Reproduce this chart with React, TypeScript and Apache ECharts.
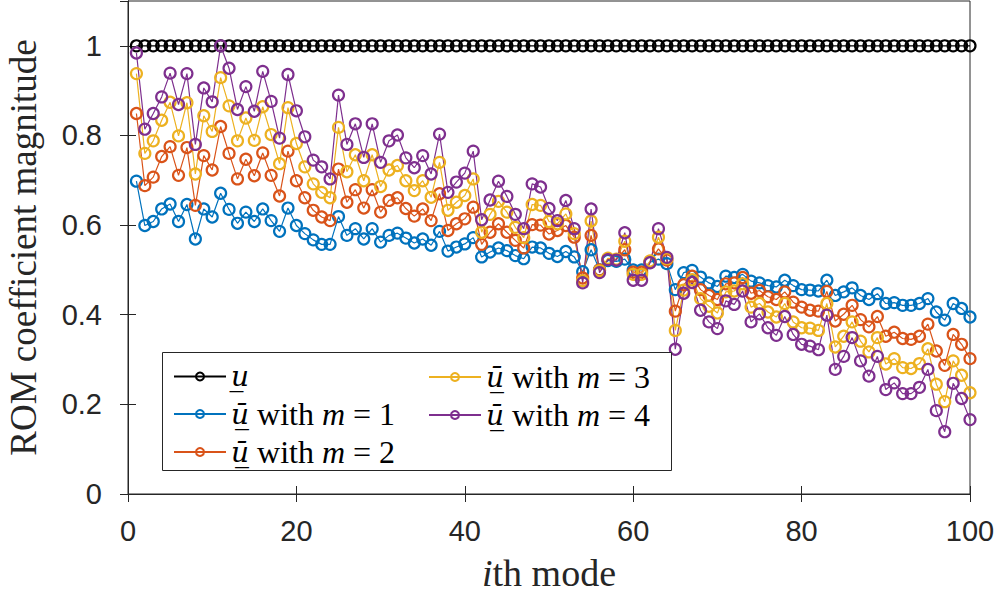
import React, { useEffect, useRef } from "react";
import * as echarts from "echarts";

const modes: number[] = [
  1, 2, 3, 4, 5, 6, 7, 8, 9, 10, 11, 12, 13, 14, 15, 16, 17, 18, 19, 20,
  21, 22, 23, 24, 25, 26, 27, 28, 29, 30, 31, 32, 33, 34, 35, 36, 37, 38, 39, 40,
  41, 42, 43, 44, 45, 46, 47, 48, 49, 50, 51, 52, 53, 54, 55, 56, 57, 58, 59, 60,
  61, 62, 63, 64, 65, 66, 67, 68, 69, 70, 71, 72, 73, 74, 75, 76, 77, 78, 79, 80,
  81, 82, 83, 84, 85, 86, 87, 88, 89, 90, 91, 92, 93, 94, 95, 96, 97, 98, 99, 100,
];

const uExact: number[] = [
  1, 1, 1, 1, 1, 1, 1, 1, 1, 1, 1, 1, 1, 1, 1, 1, 1, 1, 1, 1,
  1, 1, 1, 1, 1, 1, 1, 1, 1, 1, 1, 1, 1, 1, 1, 1, 1, 1, 1, 1,
  1, 1, 1, 1, 1, 1, 1, 1, 1, 1, 1, 1, 1, 1, 1, 1, 1, 1, 1, 1,
  1, 1, 1, 1, 1, 1, 1, 1, 1, 1, 1, 1, 1, 1, 1, 1, 1, 1, 1, 1,
  1, 1, 1, 1, 1, 1, 1, 1, 1, 1, 1, 1, 1, 1, 1, 1, 1, 1, 1, 1,
];

const m1: number[] = [
  0.698, 0.599, 0.608, 0.636, 0.647, 0.608, 0.646, 0.569, 0.636, 0.618,
  0.671, 0.635, 0.604, 0.629, 0.608, 0.636, 0.610, 0.586, 0.638, 0.599,
  0.581, 0.567, 0.557, 0.557, 0.619, 0.577, 0.592, 0.569, 0.592, 0.562,
  0.577, 0.582, 0.571, 0.560, 0.569, 0.555, 0.586, 0.542, 0.551, 0.558,
  0.572, 0.529, 0.540, 0.549, 0.543, 0.532, 0.525, 0.551, 0.549, 0.537,
  0.530, 0.541, 0.529, 0.496, 0.545, 0.500, 0.521, 0.519, 0.524, 0.500,
  0.500, 0.517, 0.524, 0.514, 0.456, 0.494, 0.499, 0.484, 0.471, 0.463,
  0.486, 0.483, 0.490, 0.475, 0.471, 0.465, 0.462, 0.477, 0.465, 0.456,
  0.455, 0.453, 0.477, 0.443, 0.451, 0.460, 0.443, 0.434, 0.447, 0.425,
  0.427, 0.421, 0.421, 0.425, 0.436, 0.406, 0.388, 0.425, 0.414, 0.395,
];

const m2: number[] = [
  0.849, 0.688, 0.707, 0.753, 0.775, 0.711, 0.773, 0.644, 0.755, 0.723,
  0.820, 0.760, 0.703, 0.747, 0.710, 0.761, 0.711, 0.665, 0.765, 0.699,
  0.661, 0.633, 0.618, 0.610, 0.725, 0.651, 0.679, 0.638, 0.679, 0.629,
  0.655, 0.661, 0.637, 0.620, 0.636, 0.610, 0.670, 0.588, 0.603, 0.614,
  0.640, 0.557, 0.584, 0.603, 0.584, 0.566, 0.549, 0.601, 0.600, 0.580,
  0.588, 0.599, 0.573, 0.482, 0.577, 0.500, 0.524, 0.523, 0.545, 0.495,
  0.495, 0.518, 0.547, 0.522, 0.408, 0.467, 0.486, 0.456, 0.443, 0.434,
  0.469, 0.471, 0.483, 0.448, 0.454, 0.440, 0.434, 0.451, 0.428, 0.417,
  0.410, 0.408, 0.452, 0.386, 0.401, 0.421, 0.389, 0.373, 0.396, 0.352,
  0.361, 0.347, 0.345, 0.352, 0.379, 0.319, 0.287, 0.356, 0.334, 0.302,
];

const m3: number[] = [
  0.938, 0.760, 0.788, 0.834, 0.874, 0.799, 0.873, 0.714, 0.844, 0.809,
  0.929, 0.866, 0.788, 0.839, 0.789, 0.864, 0.802, 0.737, 0.862, 0.782,
  0.730, 0.692, 0.673, 0.661, 0.818, 0.719, 0.757, 0.699, 0.757, 0.686,
  0.723, 0.733, 0.699, 0.677, 0.699, 0.662, 0.740, 0.633, 0.651, 0.666,
  0.703, 0.584, 0.624, 0.653, 0.629, 0.595, 0.572, 0.646, 0.644, 0.608,
  0.603, 0.625, 0.581, 0.476, 0.609, 0.498, 0.526, 0.524, 0.564, 0.490,
  0.490, 0.520, 0.573, 0.525, 0.365, 0.455, 0.478, 0.436, 0.419, 0.404,
  0.451, 0.453, 0.469, 0.417, 0.425, 0.406, 0.395, 0.425, 0.384, 0.371,
  0.370, 0.365, 0.425, 0.328, 0.352, 0.384, 0.341, 0.317, 0.349, 0.290,
  0.302, 0.282, 0.280, 0.291, 0.324, 0.245, 0.206, 0.297, 0.265, 0.226,
];

const m4: number[] = [
  0.984, 0.814, 0.849, 0.886, 0.939, 0.869, 0.938, 0.780, 0.906, 0.875,
  1.000, 0.950, 0.858, 0.909, 0.854, 0.943, 0.876, 0.794, 0.936, 0.855,
  0.797, 0.745, 0.730, 0.703, 0.890, 0.780, 0.826, 0.751, 0.826, 0.740,
  0.788, 0.801, 0.750, 0.728, 0.755, 0.714, 0.803, 0.673, 0.696, 0.716,
  0.765, 0.612, 0.656, 0.698, 0.664, 0.624, 0.592, 0.692, 0.685, 0.637,
  0.610, 0.655, 0.592, 0.471, 0.636, 0.494, 0.523, 0.522, 0.583, 0.477,
  0.477, 0.516, 0.592, 0.528, 0.323, 0.448, 0.472, 0.410, 0.384, 0.369,
  0.431, 0.423, 0.453, 0.384, 0.402, 0.371, 0.354, 0.396, 0.356, 0.334,
  0.330, 0.322, 0.399, 0.278, 0.307, 0.349, 0.297, 0.263, 0.307, 0.233,
  0.248, 0.224, 0.224, 0.238, 0.278, 0.186, 0.139, 0.247, 0.213, 0.166,
];

const seriesNames: string[] = ["u", "m1", "m2", "m3", "m4"];
const seriesValues: number[][] = [uExact, m1, m2, m3, m4];
const seriesColors: string[] = ["#000000", "#0072BD", "#D95319", "#EDB120", "#7E2F8E"];
const legendLabels: Record<string, string> = {
  u: "{u|u\u0332}",
  m1: "{u|u\u0304\u0332}{r| with }{i|m}{r| = 1}",
  m2: "{u|u\u0304\u0332}{r| with }{i|m}{r| = 2}",
  m3: "{u|u\u0304\u0332}{r| with }{i|m}{r| = 3}",
  m4: "{u|u\u0304\u0332}{r| with }{i|m}{r| = 4}",
};

const xTicks = { min: 0, max: 100, interval: 20 };
const yTicks = { min: 0, max: 1.1, interval: 0.2 };

const AXIS = "#262626";
const SERIF = "'Liberation Serif', 'Times New Roman', serif";
const SANS = "'Liberation Sans', Arial, Helvetica, sans-serif";

export default function App() {
  const ref = useRef<HTMLDivElement>(null);

  useEffect(() => {
    if (!ref.current) return;
    const chart = echarts.init(ref.current, undefined, { renderer: "svg" });

    const richLegend = {
      u: { fontFamily: "'DejaVu Serif', serif", fontStyle: "italic", fontSize: 28, color: "#000" },
      i: { fontFamily: SERIF, fontStyle: "italic", fontSize: 32, color: "#000" },
      r: { fontFamily: SERIF, fontSize: 32, color: "#000" },
    };

    const legendCommon = {
      orient: "vertical",
      top: 356,
      itemWidth: 52,
      itemHeight: 10,
      itemGap: 6,
      padding: 5,
      selectedMode: false,
      z: 10,
      formatter: (name: string) => legendLabels[name],
      textStyle: { fontFamily: SERIF, fontSize: 32, lineHeight: 31, color: "#000", rich: richLegend },
    };

    const yLabelFmt = (v: number) => (v > 1.05 ? "" : String(+v.toFixed(1)));

    chart.setOption({
      animation: false,
      backgroundColor: "#ffffff",
      grid: {
        left: 128,
        right: 28,
        top: 1,
        bottom: 100,
        outerBoundsMode: "none",
        containLabel: false,
        show: true,
        borderColor: AXIS,
        borderWidth: 1,
        backgroundColor: "transparent",
      },
      xAxis: [
        {
          type: "value",
          ...xTicks,
          position: "bottom",
          axisLine: { show: true, lineStyle: { color: AXIS, width: 1 } },
          axisTick: { show: true, inside: true, length: 8, lineStyle: { color: AXIS } },
          axisLabel: { show: true, margin: 22, fontFamily: SANS, fontSize: 29, color: AXIS },
          splitLine: { show: false },
          name: "{i|i}{r|th mode}",
          nameLocation: "middle",
          nameGap: 60,
          nameTextStyle: {
            rich: {
              i: { fontFamily: SERIF, fontStyle: "italic", fontSize: 38, color: AXIS },
              r: { fontFamily: SERIF, fontSize: 38, color: AXIS },
            },
          },
        },
        {
          type: "value",
          ...xTicks,
          position: "top",
          axisLine: { show: true, lineStyle: { color: AXIS, width: 1 } },
          axisTick: { show: true, inside: true, length: 8, lineStyle: { color: AXIS } },
          axisLabel: { show: false },
          splitLine: { show: false },
        },
      ],
      yAxis: [
        {
          type: "value",
          ...yTicks,
          position: "left",
          axisLine: { show: true, lineStyle: { color: AXIS, width: 1 } },
          axisTick: { show: true, inside: true, length: 8, lineStyle: { color: AXIS } },
          axisLabel: {
            show: true,
            margin: 26,
            fontFamily: SANS,
            fontSize: 29,
            color: AXIS,
            showMaxLabel: false,
            formatter: yLabelFmt,
          },
          splitLine: { show: false },
          name: "ROM coefficient magnitude",
          nameLocation: "middle",
          nameGap: 86,
          nameTextStyle: { fontFamily: SERIF, fontSize: 37, color: AXIS },
        },
        {
          type: "value",
          ...yTicks,
          position: "right",
          axisLine: { show: true, lineStyle: { color: AXIS, width: 1 } },
          axisTick: { show: true, inside: true, length: 8, lineStyle: { color: AXIS } },
          axisLabel: { show: false },
          splitLine: { show: false },
        },
      ],
      legend: [
        { ...legendCommon, left: 168, data: ["u", "m1", "m2"] },
        { ...legendCommon, left: 423, data: ["m3", "m4"] },
      ],
      graphic: [
        {
          type: "rect",
          z: 5,
          shape: { x: 162.5, y: 352.5, width: 509, height: 118 },
          style: { fill: "#ffffff", stroke: AXIS, lineWidth: 1 },
        },
      ],
      series: seriesNames.map((name, k) => ({
        name,
        type: "line",
        xAxisIndex: 0,
        yAxisIndex: 0,
        data: modes.map((m, j) => [m, seriesValues[k][j]]),
        symbol: "circle",
        symbolSize: 11,
        showSymbol: true,
        color: seriesColors[k],
        lineStyle: { color: seriesColors[k], width: 1.2 },
        itemStyle: { color: "rgba(255,255,255,0)", borderColor: seriesColors[k], borderWidth: 2.2 },
        emphasis: { disabled: true },
        z: 2,
      })),
    });

    return () => chart.dispose();
  }, []);

  return <div ref={ref} style={{ width: 998, height: 594, position: "absolute", left: 0, top: 0 }} />;
}
